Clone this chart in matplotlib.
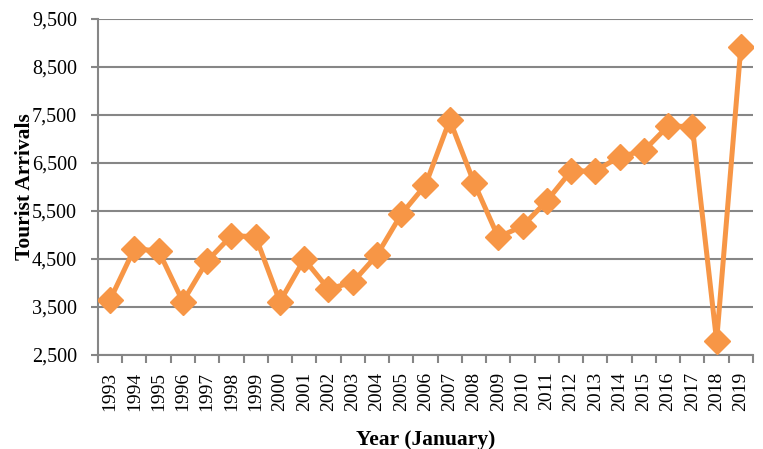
import numpy as np
import matplotlib
matplotlib.use("Agg")
import matplotlib.pyplot as plt
from matplotlib.ticker import FuncFormatter

years = [str(y) for y in range(1993, 2020)]
arrivals = [3650, 4715, 4667, 3610, 4458, 4985, 4965, 3610, 4495, 3875,
            4015, 4580, 5431, 6042, 7396, 6090, 4952, 5188, 5708, 6333,
            6333, 6631, 6756, 7271, 7257, 2792, 8923]
yticks = [2500, 3500, 4500, 5500, 6500, 7500, 8500, 9500]

plt.rcParams['font.family'] = ['Liberation Serif', 'DejaVu Serif']
orange = "#F79646"
grey = "#868686"

fig = plt.figure(figsize=(7.63, 4.49), dpi=100)
ax = fig.add_axes([0.1284, 0.2094, 0.8585, 0.7483])

x = np.arange(len(years))
ax.plot(x, arrivals, color=orange, lw=3.6, marker="D", ms=13,
        mec=orange, mfc=orange, zorder=3)

ax.set_xlim(-0.5, len(years) - 0.5)
ax.set_ylim(yticks[0], yticks[-1])
ax.set_yticks(yticks)
ax.yaxis.set_major_formatter(FuncFormatter(lambda v, p: f"{int(v):,}"))
ax.grid(axis="y", color=grey, lw=1.5)
ax.set_axisbelow(True)

ax.set_xticks(x)
ax.set_xticklabels(years, rotation=90)
ax.set_xticks(np.arange(-0.5, len(years)), minor=True)
ax.tick_params(axis="x", which="major", length=0, pad=12, labelsize=14)
ax.tick_params(axis="x", which="minor", length=6, width=1.5, color=grey)
ax.tick_params(axis="y", length=5, width=1.5, color=grey, labelsize=14.5, pad=10)

for s in ["top", "right"]:
    ax.spines[s].set_visible(False)
for s in ["left", "bottom"]:
    ax.spines[s].set_color(grey)
    ax.spines[s].set_linewidth(1.5)

ax.set_ylabel("Tourist Arrivals", fontsize=15.5, fontweight="bold", labelpad=-2)
ax.set_xlabel("Year (January)", fontsize=15.5, fontweight="bold", labelpad=14)

fig.savefig("out.png", dpi=100)
